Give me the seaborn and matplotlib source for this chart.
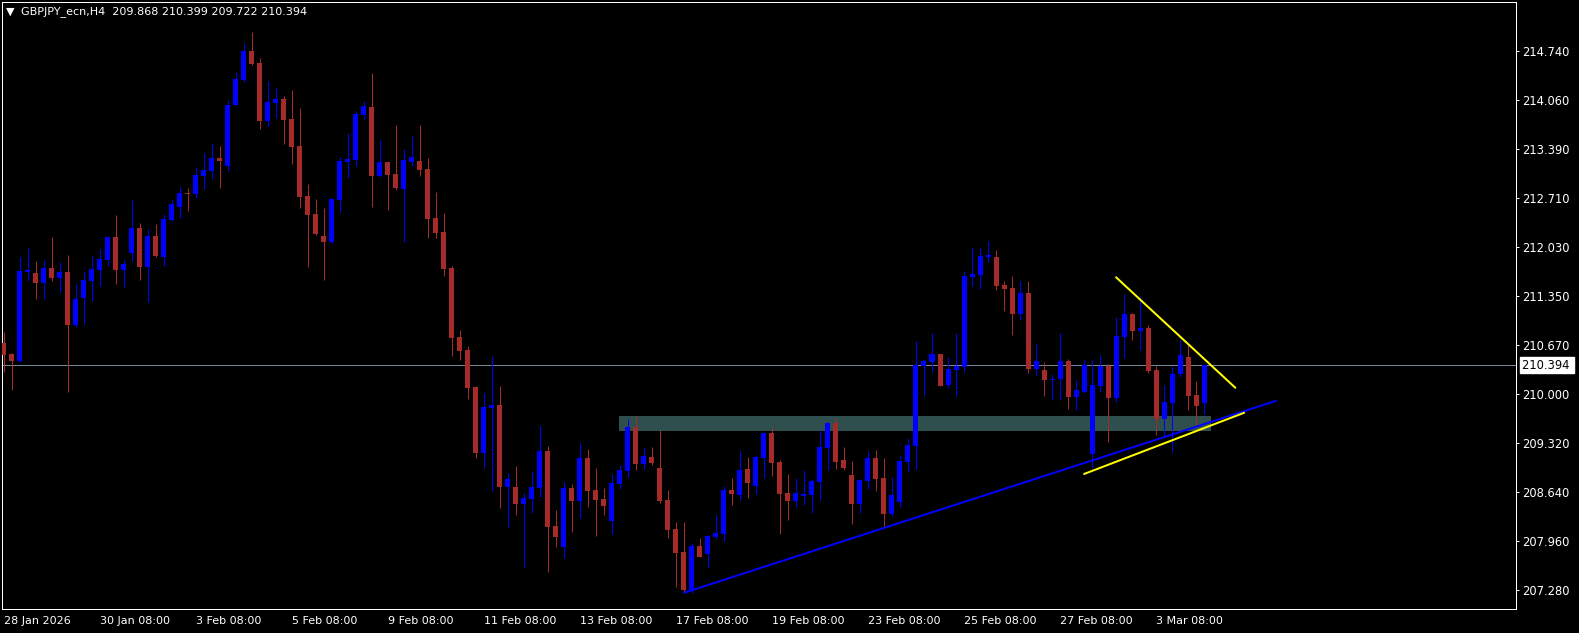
import numpy as np
import pandas as pd
import matplotlib
matplotlib.use("Agg")
import matplotlib.pyplot as plt
import matplotlib.transforms as mtransforms
import seaborn as sns

# GBPJPY H4 candles (open, high, low, close)
opens = [210.700, 210.547, 210.446, 211.688, 211.669, 211.531, 211.738, 211.605, 211.683, 210.949,
         211.328, 211.559, 211.715, 211.854, 212.168, 211.715, 211.946, 212.293, 211.753, 212.182,
         211.891, 212.408, 212.588, 212.777, 212.768, 213.017, 213.082, 213.262, 213.156, 213.996,
         214.347, 214.744, 214.578, 213.779, 214.029, 214.079, 213.802, 213.428, 212.736, 212.487,
         212.182, 212.103, 212.685, 213.211, 213.234, 213.858, 213.968, 213.013, 213.207, 213.041,
         212.833, 213.211, 213.221, 213.110, 212.431, 212.237, 211.739, 210.783, 210.603, 210.090,
         209.176, 209.800, 209.841, 208.705, 208.705, 208.470, 208.539, 208.692, 209.204, 208.165,
         207.875, 208.692, 208.512, 209.107, 208.664, 208.539, 208.235, 208.747, 208.927, 209.537,
         209.024, 209.121, 208.969, 208.525, 208.124, 207.805, 207.279, 207.888, 207.778, 208.013,
         208.055, 208.664, 208.595, 208.955, 208.719, 209.107, 209.453, 209.052, 208.622, 208.512,
         208.581, 208.595, 208.775, 209.246, 209.592, 209.079, 208.872, 208.470, 208.789, 209.107,
         208.830, 208.332, 208.498, 209.052, 209.273, 210.381, 210.437, 210.548, 210.118, 210.326,
         210.367, 211.614, 211.642, 211.891, 211.891, 211.503, 211.462, 211.102, 211.392, 210.340,
         210.326, 210.187, 210.201, 210.450, 209.952, 210.021, 209.162, 210.104, 210.381, 209.938,
         210.783, 211.101, 210.866, 210.907, 210.325, 209.647, 209.868, 210.270, 210.505, 209.979,
         209.868]
highs = [210.857, 210.566, 211.891, 212.016, 211.835, 211.849, 212.168, 211.822, 211.919, 211.517,
         211.683, 211.905, 212.002, 212.168, 212.473, 211.849, 212.680, 212.362, 212.279, 212.348,
         212.486, 212.680, 212.860, 212.847, 213.138, 213.331, 213.470, 213.428, 214.066, 214.453,
         214.855, 215.007, 214.647, 214.329, 214.232, 214.121, 214.204, 213.955, 212.902, 212.694,
         212.570, 212.708, 213.276, 213.608, 213.913, 214.052, 214.440, 213.511, 213.207, 213.719,
         213.387, 213.567, 213.719, 213.262, 212.791, 212.500, 211.766, 210.880, 210.658, 210.104,
         210.007, 210.520, 210.104, 208.899, 208.996, 208.622, 208.927, 209.550, 209.273, 208.387,
         208.775, 208.747, 209.315, 209.232, 208.969, 208.692, 208.886, 209.010, 209.647, 209.689,
         209.260, 209.260, 209.495, 208.664, 208.221, 208.221, 207.930, 207.999, 208.041, 208.318,
         208.719, 208.830, 209.204, 209.121, 209.149, 209.467, 209.537, 209.079, 208.886, 208.830,
         208.941, 208.816, 209.495, 209.606, 209.661, 209.260, 209.066, 208.816, 209.204, 209.218,
         209.107, 208.844, 209.135, 209.384, 210.728, 210.478, 210.838, 210.548, 210.506, 210.838,
         211.697, 212.030, 212.016, 212.113, 211.988, 211.559, 211.628, 211.559, 211.559, 210.686,
         210.437, 210.270, 210.838, 210.478, 210.187, 210.478, 210.464, 210.533, 210.409, 211.060,
         211.378, 211.115, 211.350, 210.949, 210.381, 210.118, 210.381, 210.741, 210.672, 210.173,
         210.399]
lows = [210.303, 210.049, 210.437, 211.559, 211.309, 211.309, 211.559, 211.406, 210.021, 210.921,
        210.963, 211.282, 211.489, 211.766, 211.517, 211.475, 211.835, 211.572, 211.268, 211.891,
        211.766, 212.390, 212.436, 212.533, 212.713, 212.833, 212.971, 212.847, 213.087, 213.982,
        214.319, 214.555, 213.668, 213.710, 213.821, 213.461, 213.184, 212.574, 211.757, 212.200,
        211.577, 212.089, 212.519, 212.990, 213.151, 213.802, 212.583, 213.000, 212.542, 212.819,
        212.099, 213.151, 213.013, 212.154, 212.154, 211.628, 210.520, 210.464, 209.924, 209.107,
        208.968, 208.650, 208.414, 208.151, 208.318, 207.597, 208.345, 208.567, 207.528, 207.875,
        207.722, 208.082, 208.276, 208.428, 208.027, 208.318, 208.055, 208.678, 208.844, 208.941,
        208.955, 209.010, 208.484, 207.999, 207.320, 207.251, 207.242, 207.736, 207.584, 207.985,
        207.958, 208.456, 208.525, 208.553, 208.609, 208.830, 208.858, 208.055, 208.248, 208.428,
        208.456, 208.345, 208.525, 208.941, 208.955, 208.941, 208.193, 208.345, 208.678, 208.650,
        208.138, 208.300, 208.428, 208.913, 208.955, 209.966, 210.298, 210.104, 210.077, 209.966,
        210.298, 211.489, 211.448, 211.822, 211.434, 211.143, 210.811, 211.018, 210.284, 210.243,
        209.966, 209.910, 209.910, 209.785, 209.771, 210.007, 208.968, 210.021, 209.328, 209.882,
        210.492, 210.741, 210.602, 210.284, 209.425, 209.397, 209.190, 210.229, 209.771, 209.564,
        209.722]
closes = [210.538, 210.455, 211.697, 211.711, 211.535, 211.738, 211.605, 211.683, 210.954, 211.309,
          211.572, 211.725, 211.863, 212.168, 211.715, 211.794, 212.293, 211.753, 212.182, 211.905,
          212.417, 212.625, 212.777, 212.763, 213.022, 213.096, 213.262, 213.225, 213.996, 214.356,
          214.744, 214.569, 213.779, 214.038, 214.079, 213.793, 213.419, 212.727, 212.477, 212.214,
          212.103, 212.694, 213.220, 213.248, 213.872, 213.982, 213.013, 213.207, 213.027, 212.847,
          213.234, 213.276, 213.096, 212.417, 212.223, 211.725, 210.769, 210.589, 210.077, 209.176,
          209.813, 209.841, 208.705, 208.816, 208.470, 208.553, 208.706, 209.204, 208.152, 208.013,
          208.692, 208.512, 209.107, 208.650, 208.525, 208.442, 208.761, 208.941, 209.537, 209.024,
          209.135, 209.038, 208.512, 208.110, 207.791, 207.279, 207.888, 207.736, 208.027, 208.068,
          208.664, 208.609, 208.941, 208.761, 209.121, 209.453, 209.038, 208.609, 208.512, 208.622,
          208.609, 208.789, 209.260, 209.592, 209.052, 208.969, 208.470, 208.802, 209.107, 208.816,
          208.332, 208.595, 209.066, 209.287, 210.395, 210.451, 210.548, 210.104, 210.340, 210.381,
          211.628, 211.656, 211.905, 211.919, 211.489, 211.448, 211.102, 211.392, 210.340, 210.451,
          210.187, 210.201, 210.450, 209.952, 210.048, 210.395, 210.118, 210.381, 209.938, 210.796,
          211.101, 210.866, 210.907, 210.311, 209.647, 209.882, 210.270, 210.533, 209.965, 209.827,
          210.394]

price_ticks = [214.740, 214.060, 213.390, 212.710, 212.030, 211.350, 210.670,
               210.000, 209.320, 208.640, 207.960, 207.280]
last_price = 210.394
title_text = "GBPJPY_ecn,H4  209.868 210.399 209.722 210.394"

# drawn objects (bar index, price)
support_line = [(85.0, 207.24), (159.0, 209.90)]
upper_yellow = [(139.0, 211.61), (153.9, 210.08)]
lower_yellow = [(135.0, 208.886), (155.0, 209.734)]
zone_bars = (76.95, 150.9)
zone_prices = (209.481, 209.689)

BULL = "#0000ff"
BEAR = "#a52a2a"

sns.set_theme(style="dark", rc={
    "figure.facecolor": "black",
    "axes.facecolor": "black",
    "axes.edgecolor": "white",
    "text.color": "white",
    "xtick.color": "white",
    "ytick.color": "white",
})
plt.rcParams["font.family"] = ["DejaVu Sans"]

df = pd.DataFrame({"open": opens, "high": highs, "low": lows, "close": closes})
df["bar"] = np.arange(len(df))
days = pd.bdate_range("2026-01-28", "2026-03-04")
times = [d + pd.Timedelta(hours=h) for d in days for h in range(0, 24, 4)]
df["time"] = times[2:2 + len(df)]

W, H = 1579, 633
fig = plt.figure(figsize=(W / 100, H / 100), dpi=100)
ax = fig.add_axes([2 / W, 1 - 609 / H, (1515.5 - 2) / W, (609 - 2) / H])
ax.set_facecolor("black")

px = 0.72  # one pixel in points
up = df["close"] >= df["open"]
colors = np.where(up, BULL, BEAR)

# zone and price line behind candles
ax.fill_between(list(zone_bars), zone_prices[0], zone_prices[1],
                color="#2f4f4f", linewidth=0, zorder=1)
ax.axhline(last_price, color="#778899", linewidth=px, zorder=1.5)

ax.vlines(df["bar"], df["low"], df["high"], colors=colors, linewidth=px, zorder=2)
body_lo = np.minimum(df["open"], df["close"])
body_h = np.maximum((df["close"] - df["open"]).abs(), 0.014)
ax.bar(df["bar"], body_h, bottom=body_lo, width=0.625, color=colors,
       linewidth=0, zorder=3)

for pts, col in [(support_line, BULL), (upper_yellow, "#ffff00"), (lower_yellow, "#ffff00")]:
    sns.lineplot(x=[p[0] for p in pts], y=[p[1] for p in pts], ax=ax,
                 color=col, linewidth=2 * px, zorder=4)

ax.set_xlim(-0.19, 188.9)
ax.set_ylim(207.016, 215.423)
ax.grid(False)
for s in ax.spines.values():
    s.set_color("white")
    s.set_linewidth(px)

ax.yaxis.tick_right()
ax.set_yticks(price_ticks)
ax.set_yticklabels([f"{v:.3f}" for v in price_ticks], fontsize=8.3)
ax.tick_params(axis="y", direction="out", length=2.5, width=px, pad=2.5,
               left=False, right=True)

xt = list(range(0, len(df), 12))
xl = []
for i in xt:
    t = df["time"].iloc[i]
    xl.append(f"{t.day} {t:%b} {t.year}" if i == 0 else f"{t.day} {t:%b} {t:%H:%M}")
ax.set_xticks(xt)
ax.set_xticklabels(xl, fontsize=8, ha="left")
ax.tick_params(axis="x", direction="out", length=3, width=px, pad=2)
ax.set_xlabel("")
ax.set_ylabel("")

# current price tag on the scale
trans = mtransforms.blended_transform_factory(ax.transAxes, ax.transData)
ax.text(1.004, last_price, "210.394 ", transform=trans, fontsize=8.3, color="black",
        va="center", ha="left",
        bbox=dict(boxstyle="square,pad=0.15", facecolor="white", edgecolor="white"))

fig.text(6 / W, 1 - 12 / H, "\u25bc", fontsize=8, color="white", va="center", ha="left")
fig.text(21 / W, 1 - 12 / H, title_text, fontsize=8, color="white", va="center", ha="left")

fig.savefig("out.png", dpi=100, facecolor="black")
